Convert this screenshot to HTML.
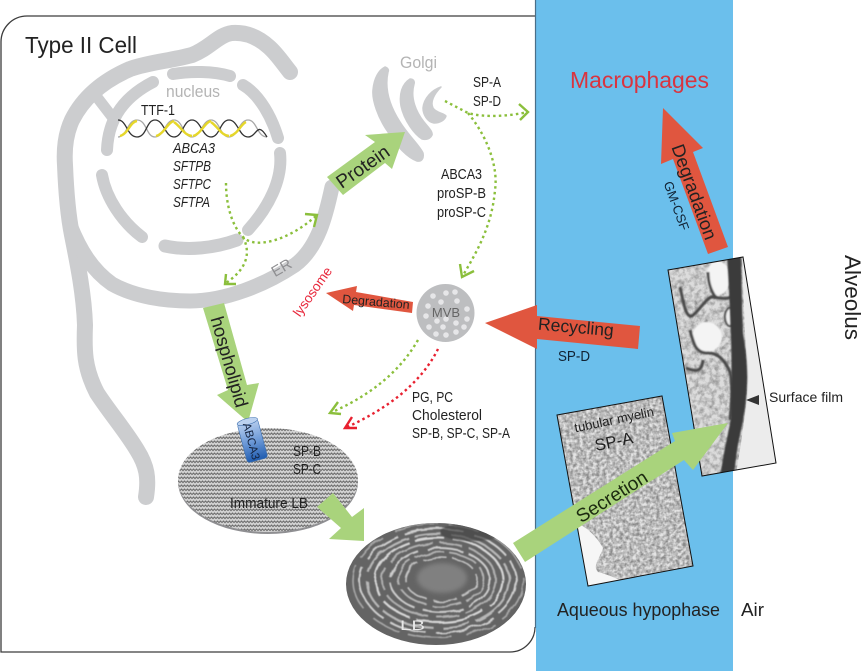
<!DOCTYPE html>
<html>
<head>
<meta charset="utf-8">
<style>
html,body{margin:0;padding:0;background:#fff;width:867px;height:671px;overflow:hidden}
svg{display:block}
text{font-family:"Liberation Sans",sans-serif;fill:#222}
</style>
</head>
<body>
<svg width="867" height="671" viewBox="0 0 867 671" xmlns="http://www.w3.org/2000/svg">
<defs>
<pattern id="zig" width="6" height="4" patternUnits="userSpaceOnUse">
<rect width="6" height="4" fill="#d2d2d2"/>
<path d="M0 2.6L1.5 1L3 2.6L4.5 1L6 2.6" fill="none" stroke="#6a6a6a" stroke-width="1"/>
</pattern>
<linearGradient id="cyl" x1="0" y1="0" x2="0" y2="1">
<stop offset="0" stop-color="#b9cfee"/><stop offset=".5" stop-color="#6f9bd8"/><stop offset="1" stop-color="#1f5cb0"/>
</linearGradient>
<filter id="tex1" x="0" y="0" width="100%" height="100%">
<feTurbulence type="fractalNoise" baseFrequency=".3" numOctaves="2" seed="4"/>
<feColorMatrix values="0 0 0 0 .25  0 0 0 0 .25  0 0 0 0 .25  2 0 0 0 -.55"/>
</filter>
<filter id="tex2" x="0" y="0" width="100%" height="100%">
<feTurbulence type="fractalNoise" baseFrequency=".2" numOctaves="3" seed="9"/>
<feColorMatrix values="0 0 0 0 .25  0 0 0 0 .25  0 0 0 0 .25  1.8 0 0 0 -.65"/>
</filter>
<filter id="wob" x="-5%" y="-5%" width="110%" height="110%">
<feTurbulence type="fractalNoise" baseFrequency=".06" numOctaves="2" seed="3" result="n"/>
<feDisplacementMap in="SourceGraphic" in2="n" scale="5"/>
<feGaussianBlur stdDeviation=".45"/>
</filter>
<filter id="bl" x="-10%" y="-10%" width="120%" height="120%"><feGaussianBlur stdDeviation=".8"/></filter>
<filter id="bl2" x="-30%" y="-30%" width="160%" height="160%"><feGaussianBlur stdDeviation="2"/></filter>
<clipPath id="tmclip"><polygon points="557,415 662,396 693,566 588,586"/></clipPath>
<clipPath id="sfclip"><polygon points="668,270 743,257 776,463 702,476"/></clipPath>
<clipPath id="lbclip"><ellipse cx="436" cy="584" rx="90" ry="61"/></clipPath>
</defs>

<!-- blue hypophase -->
<rect x="536" y="0" width="197" height="671" fill="#6bbfec"/>
<!-- cell border -->
<path d="M535 627A25 25 0 0 1 510 652H1V42A26 26 0 0 1 27 16H535" fill="none" stroke="#3c3c3c" stroke-width="1.3"/>
<line x1="535.5" y1="0" x2="535.5" y2="628" stroke="#4a6f88" stroke-width="1.2"/>

<!-- membrane -->
<g fill="none" stroke="#cccdcf" stroke-linecap="round" stroke-linejoin="round">
<path stroke-width="16" d="M290 72C282 62 277 54 269 47C258 37 246 32 232 33C218 35 210 48 192 55C170 61 150 62 130 69C100 82 82 100 72 120C65 135 64 150 65 165C66 190 68 215 72 235C78 265 84 295 85 325C84 350 84 368 97 393C110 413 125 430 137 450C147 466 149 478 146 497"/>
<path stroke-width="15" d="M70 225C80 250 92 270 112 284C135 297 165 301 190 301C225 301 265 285 295 265C318 248 326 215 332 187"/>
<path stroke-width="12" d="M173 74C190 71 213 71 230 76"/>
<path stroke-width="12" d="M243 85C260 95 272 118 278 138"/>
<path stroke-width="12" d="M280 153C283 180 268 208 248 230"/>
<path stroke-width="13" d="M165 246C188 251 215 248 237 240"/>
<path stroke-width="12" d="M142 237C122 222 106 198 102 175"/>
<path stroke-width="12" d="M107 150C108 125 118 100 153 82"/>
<path stroke-width="11" d="M113 118L93 92"/>
</g>
<g fill="#cccdcf" stroke="#cccdcf" stroke-width="1.5" stroke-linejoin="round">
<path d="M385 67C388 68 389 70 388 72C384 90 391 108 400 122C408 135 420 146 423 153C424 158 422 162 417 161C408 158 396 146 388 132C378 118 372 100 373 90C374 78 379 70 385 67Z"/>
<path d="M410 79C413 79 415 81 414 84C410 98 416 112 424 122C429 128 433 132 432 135C430 139 426 140 422 139C414 134 404 120 401 106C399 94 402 84 410 79Z"/>
<path d="M441 87C434 94 430 102 433 108C436 113 444 113 446 116C445 120 440 123 434 123C427 122 423 114 423 108C424 98 432 90 441 87Z"/>
</g>

<!-- DNA -->
<g fill="none" stroke-width="1.3">
<path stroke="#a8a8a8" d="M118 137C127 137 127 120 137 120S146 137 155 137S165 120 174 120S183 137 192 137S202 120 211 120S220 137 229 137S239 120 248 120S257 137 267 137"/>
<path stroke="#333" d="M118 120C127 120 127 137 137 137S146 120 155 120S165 137 174 137S183 120 192 120S202 137 211 137S220 120 229 120S239 137 248 137S257 120 267 137"/>
<g stroke="#e6d72a" stroke-width="2.4">
<path d="M120 136C128 134 130 122 137 121"/><path d="M156 136C164 134 168 122 174 121"/>
<path d="M174 122C182 128 184 135 192 136"/><path d="M193 136C201 134 205 122 211 121"/>
<path d="M211 122C219 128 221 135 229 136"/><path d="M230 136C238 134 241 124 246 122"/>
</g>
</g>

<!-- green block arrows -->
<g fill="#a9d37c">
<polygon points="327,177 375,142 365,135 405,132 392,169 385,163 343,195"/>
<polygon points="203,308 224,303 247,385 259,383 248,422 217,395 228,390"/>
</g>
<text transform="translate(363,167) rotate(-35)" font-size="19" text-anchor="middle" dy="6">Protein</text>
<text transform="translate(229,362) rotate(74)" font-size="18.5" text-anchor="middle" dy="6">hospholipid</text>

<!-- immature LB -->
<ellipse cx="268" cy="482" rx="90" ry="52" fill="#8f8f92"/>
<ellipse cx="268" cy="480" rx="90" ry="52" fill="url(#zig)"/>
<g transform="translate(252,439) rotate(-15)">
<rect x="-10.5" y="-18" width="21" height="40" rx="3" fill="url(#cyl)" stroke="#3d6fae" stroke-width=".6"/>
<ellipse cx="0" cy="-18" rx="10.5" ry="3.2" fill="#bcd2f0" stroke="#3d6fae" stroke-width=".6"/>
<text transform="translate(-1,2) rotate(90)" font-size="11.5" text-anchor="middle" dy="4" style="fill:#14233f">ABCA3</text>
</g>
<g font-size="14.5">
<text x="293" y="456" textLength="28" lengthAdjust="spacingAndGlyphs">SP-B</text>
<text x="293" y="474" textLength="28" lengthAdjust="spacingAndGlyphs">SP-C</text>
<text x="230" y="508" textLength="78" lengthAdjust="spacingAndGlyphs">Immature LB</text>
</g>
<polygon fill="#a9d37c" points="317,507 333,493 352,517 364,508 364,541 329,539 341,528"/>

<!-- LB -->
<ellipse cx="436" cy="584" rx="90" ry="61" fill="#646464"/>
<g clip-path="url(#lbclip)">
<g fill="none" filter="url(#wob)">
<ellipse cx="438" cy="581" rx="85" ry="57" stroke="#a8a8a8" stroke-width="1.6" stroke-dasharray="45 9 30 14"/>
<ellipse cx="438" cy="581" rx="78" ry="52" stroke="#cfcfcf" stroke-width="2" stroke-dasharray="38 7 60 10"/>
<ellipse cx="438" cy="581" rx="71" ry="47" stroke="#b8b8b8" stroke-width="2.2" stroke-dasharray="55 6 28 9"/>
<ellipse cx="439" cy="580" rx="64" ry="42" stroke="#d6d6d6" stroke-width="2.2" stroke-dasharray="30 8 70 6"/>
<ellipse cx="439" cy="580" rx="57" ry="37" stroke="#b0b0b0" stroke-width="2" stroke-dasharray="48 7 22 8"/>
<ellipse cx="440" cy="580" rx="50" ry="32" stroke="#cccccc" stroke-width="2" stroke-dasharray="36 6 40 9"/>
<ellipse cx="441" cy="579" rx="43" ry="27" stroke="#b4b4b4" stroke-width="1.8" stroke-dasharray="30 5"/>
<ellipse cx="441" cy="579" rx="36" ry="22" stroke="#c4c4c4" stroke-width="1.6" stroke-dasharray="24 6"/>
</g>
<ellipse cx="442" cy="578" rx="25" ry="15" fill="#808080" filter="url(#bl2)"/>
<ellipse cx="472" cy="532" rx="32" ry="9" fill="#444" opacity=".7" filter="url(#bl)"/>
</g>
<text x="400" y="630" font-size="14" textLength="25" lengthAdjust="spacingAndGlyphs" style="fill:#e8e8e8">LB</text>

<!-- Tubular myelin image -->
<polygon points="557,415 662,396 693,566 588,586" fill="#e4e4e4"/>
<g clip-path="url(#tmclip)">
<rect x="550" y="390" width="150" height="200" filter="url(#tex1)"/>
<path d="M574 522C584 525 596 535 603 548C600 558 592 566 598 572C610 575 625 582 640 590L585 592L568 520Z" fill="#f6f6f6"/>
</g>
<polygon points="557,415 662,396 693,566 588,586" fill="none" stroke="#111" stroke-width="1"/>
<text transform="translate(615,424) rotate(-12)" font-size="13" text-anchor="middle">tubular myelin</text>
<text transform="translate(615,447) rotate(-12)" font-size="16.5" text-anchor="middle">SP-A</text>

<!-- Surface film image -->
<polygon points="668,270 743,257 776,463 702,476" fill="#dcdcdc"/>
<g clip-path="url(#sfclip)">
<rect x="660" y="250" width="90" height="230" filter="url(#tex2)"/>
<g filter="url(#bl)">
<ellipse cx="718" cy="278" rx="12" ry="17" fill="#f4f4f4"/>
<ellipse cx="707" cy="337" rx="15" ry="15" fill="#f4f4f4"/>
<ellipse cx="730" cy="317" rx="5" ry="9" fill="#f0f0f0" stroke="#4a4a4a" stroke-width="2"/>
<g fill="none" stroke="#4a4a4a" stroke-width="3">
<path d="M680 287C684 305 686 318 692 316C700 310 706 298 712 297C720 298 726 300 734 296"/>
<path d="M708 272C708 285 712 292 716 298"/>
<path d="M690 330C694 345 696 352 706 353C716 352 724 358 730 372C733 385 732 400 730 420"/>
<path d="M686 368C696 372 702 372 703 360"/>
</g>
</g>
<path d="M742 255L752 255L780 470L735 480C742 440 748 400 747 375C745 330 743 290 742 255Z" fill="#ececec"/>
<path d="M727 255L741 255C742 290 742 310 743 333C746 350 748 370 747 385C746 410 742 425 738 445C736 455 735 470 733 480L720 480C724 445 730 430 731 415C731 395 732 370 731 340C730 310 729 285 727 255Z" fill="#3a3a3a" filter="url(#bl)"/>
<polygon points="746,400 759,395 759,405" fill="#333"/>
</g>
<polygon points="668,270 743,257 776,463 702,476" fill="none" stroke="#111" stroke-width="1"/>
<text x="769" y="402" font-size="13.5" textLength="74" lengthAdjust="spacingAndGlyphs">Surface film</text>

<!-- Secretion arrow -->
<polygon fill="#a9d37c" points="513,543 675,441 672,433 728,423 693,470 684,460 525,562"/>
<text transform="translate(612,497) rotate(-32)" font-size="19" text-anchor="middle" dy="6" style="fill:#1c2a10">Secretion</text>

<!-- Red arrows -->
<g fill="#e0563f">
<polygon points="663,108 703,148 693,152 728,247 708,254 673,159 661,164"/>
<polygon points="485,323 537,305 537,316 640,326 638,349 537,339 537,349"/>
<polygon points="326,293 357,286 356,292 413,302 412,313 354,305 353,311"/>
</g>
<text transform="translate(694,192) rotate(70)" font-size="18.4" text-anchor="middle" dy="6">Degradation</text>
<text transform="translate(676,206) rotate(70)" font-size="13" text-anchor="middle" dy="4" style="fill:#123">GM-CSF</text>
<text transform="translate(576,327) rotate(5)" font-size="17.5" text-anchor="middle" dy="6">Recycling</text>
<text x="558" y="361" font-size="15" textLength="32" lengthAdjust="spacingAndGlyphs" style="fill:#123">SP-D</text>
<text transform="translate(376,302) rotate(5)" font-size="12.4" text-anchor="middle" dy="4">Degradation</text>
<text transform="translate(313,292) rotate(-55)" font-size="13.5" text-anchor="middle" dy="4" style="fill:#e8283c">lysosome</text>

<!-- MVB -->
<circle cx="445.5" cy="313" r="29" fill="#bdbec0"/>
<g fill="#e6e6e8">
<circle cx="433" cy="296" r="2.8"/><circle cx="446" cy="293" r="2.8"/><circle cx="455" cy="292" r="2.8"/><circle cx="441" cy="302" r="2.8"/><circle cx="457" cy="301" r="2.8"/><circle cx="428" cy="306" r="2.8"/><circle cx="467" cy="309" r="2.8"/><circle cx="426" cy="316" r="2.8"/><circle cx="437" cy="321" r="2.8"/><circle cx="446" cy="319" r="2.8"/><circle cx="456" cy="323" r="2.8"/><circle cx="467" cy="319" r="2.8"/><circle cx="429" cy="327" r="2.8"/><circle cx="443" cy="327" r="2.8"/><circle cx="464" cy="327" r="2.8"/><circle cx="436" cy="334" r="2.8"/><circle cx="446" cy="335" r="2.8"/><circle cx="456" cy="332" r="2.8"/>
</g>
<text x="446" y="317" font-size="13" text-anchor="middle" style="fill:#666">MVB</text>

<!-- Dotted arrows -->
<g fill="none" stroke="#8bbf3c" stroke-width="2.4" stroke-dasharray="2.5 3.2">
<path d="M226 183C226 205 232 226 243 237C255 250 290 240 317 215"/>
<path d="M243 237C252 255 245 270 226 283"/>
<path d="M445 101L468 113C485 118 510 116 528 112"/>
<path d="M468 113C490 140 498 170 495 190C492 225 478 250 462 277"/>
<path d="M418 340C398 375 365 398 330 413"/>
</g>
<g fill="none" stroke="#8bbf3c" stroke-width="2.4">
<path d="M305 214L317 215L314 227"/>
<path d="M226 274L225 284L236 284"/>
<path d="M519 104L528 112L520 120"/>
<path d="M460 264L462 277L474 271"/>
<path d="M338 402L330 413L341 414"/>
</g>
<path fill="none" stroke="#e8202f" stroke-width="2.4" stroke-dasharray="2.5 3.2" d="M438 349C420 385 385 410 345 428"/>
<path fill="none" stroke="#e8202f" stroke-width="2.4" d="M352 417L345 428L357 428"/>

<!-- Labels -->
<text x="25" y="53" font-size="23" textLength="112" lengthAdjust="spacingAndGlyphs">Type II Cell</text>
<text x="166" y="97" font-size="17" textLength="54" lengthAdjust="spacingAndGlyphs" style="fill:#b4b4b4">nucleus</text>
<text x="141" y="115" font-size="15" textLength="34" lengthAdjust="spacingAndGlyphs">TTF-1</text>
<g font-size="15" font-style="italic">
<text x="173" y="153" textLength="42" lengthAdjust="spacingAndGlyphs">ABCA3</text>
<text x="173" y="171" textLength="38" lengthAdjust="spacingAndGlyphs">SFTPB</text>
<text x="173" y="189" textLength="38" lengthAdjust="spacingAndGlyphs">SFTPC</text>
<text x="173" y="207" textLength="37" lengthAdjust="spacingAndGlyphs">SFTPA</text>
</g>
<text x="400" y="68" font-size="17" textLength="37" lengthAdjust="spacingAndGlyphs" style="fill:#b4b4b4">Golgi</text>
<text transform="translate(284,272) rotate(-30)" font-size="15" text-anchor="middle" style="fill:#8f8f92">ER</text>
<g font-size="14.5">
<text x="473" y="87" textLength="28" lengthAdjust="spacingAndGlyphs">SP-A</text>
<text x="473" y="106" textLength="28" lengthAdjust="spacingAndGlyphs">SP-D</text>
<text x="441" y="179" textLength="41" lengthAdjust="spacingAndGlyphs">ABCA3</text>
<text x="437" y="198" textLength="49" lengthAdjust="spacingAndGlyphs">proSP-B</text>
<text x="437" y="217" textLength="49" lengthAdjust="spacingAndGlyphs">proSP-C</text>
<text x="412" y="402" textLength="41" lengthAdjust="spacingAndGlyphs">PG, PC</text>
<text x="412" y="420" textLength="70" lengthAdjust="spacingAndGlyphs">Cholesterol</text>
<text x="412" y="438" textLength="98" lengthAdjust="spacingAndGlyphs">SP-B, SP-C, SP-A</text>
</g>
<text x="570" y="88" font-size="23" textLength="139" lengthAdjust="spacingAndGlyphs" style="fill:#d9343f">Macrophages</text>
<text x="557" y="616" font-size="18" textLength="163" lengthAdjust="spacingAndGlyphs">Aqueous hypophase</text>
<text x="741" y="616" font-size="18" textLength="23" lengthAdjust="spacingAndGlyphs">Air</text>
<text transform="translate(845,255) rotate(90)" font-size="22.5">Alveolus</text>
</svg>
</body>
</html>
